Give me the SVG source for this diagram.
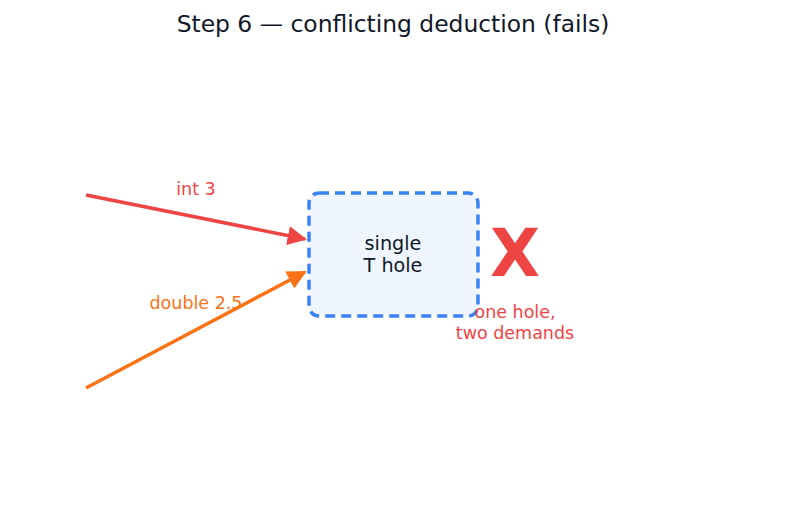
<svg xmlns="http://www.w3.org/2000/svg" width="787" height="510" viewBox="0 0 787 510">
<style>
text{font-family:"DejaVu Sans",sans-serif;text-anchor:middle}
.title{font-size:23.4px;fill:#111827}
.lbl{font-size:19.2px;fill:#111827}
.red{fill:#ef4444}
.org{fill:#f97316}
.small{font-size:17.5px}
</style>
<defs>
<marker id="ar" viewBox="0 0 10 10" refX="9" refY="5" markerWidth="5.5" markerHeight="5.5" orient="auto" markerUnits="strokeWidth"><path d="M0,0 L10,5 L0,10 z" fill="#ef4444"/></marker>
<marker id="ao" viewBox="0 0 10 10" refX="9" refY="5" markerWidth="5.5" markerHeight="5.5" orient="auto" markerUnits="strokeWidth"><path d="M0,0 L10,5 L0,10 z" fill="#f97316"/></marker>
</defs>
<rect width="787" height="510" fill="#fff"/>
<text class="title" x="393" y="32">Step 6 — conflicting deduction (fails)</text>
<g id="connectors">
<line x1="86" y1="195" x2="305" y2="239" stroke="#ef4444" stroke-width="3.5" marker-end="url(#ar)"/>
<line x1="86" y1="388" x2="305" y2="272" stroke="#f97316" stroke-width="3.5" marker-end="url(#ao)"/>
<text class="red small" x="196" y="195">int 3</text>
<text class="org small" x="196" y="309">double 2.5</text>
</g>
<g id="hole">
<rect x="309" y="193" width="169" height="123" rx="10" fill="#eff6ff" stroke="#3b82f6" stroke-width="3.5" stroke-dasharray="10,6"/>
<text class="lbl" x="393" y="250">single</text>
<text class="lbl" x="393" y="272">T hole</text>
</g>
<g id="fail">
<text class="red" x="515" y="276" font-size="65" font-weight="bold">X</text>
<text class="red small" x="515" y="318">one hole,</text>
<text class="red small" x="515" y="339">two demands</text>
</g>
</svg>
